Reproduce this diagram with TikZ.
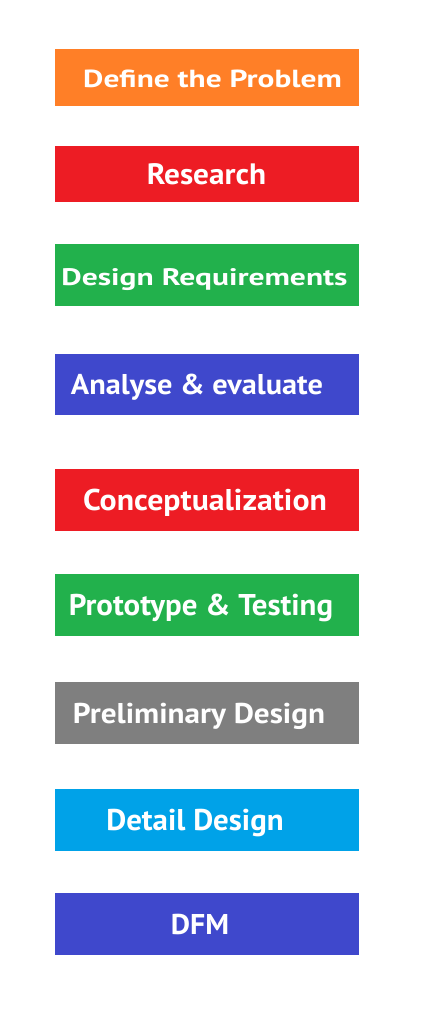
\documentclass[tikz,border=0pt]{standalone}
\usepackage{graphicx}
\usepackage{fontspec}
\setmainfont{PT Sans}
\definecolor{stepOrange}{RGB}{255,127,39}
\definecolor{stepRed}{RGB}{237,28,36}
\definecolor{stepGreen}{RGB}{34,177,76}
\definecolor{stepIndigo}{RGB}{63,72,204}
\definecolor{stepGray}{RGB}{127,127,127}
\definecolor{stepBlue}{RGB}{0,162,232}
\newcommand{\stepwide}[2]{\scalebox{#1}[1]{#2}}
\newcommand{\stepfont}[1]{\fontsize{#1}{30}\selectfont\bfseries}

\begin{document}
\begin{tikzpicture}[x=1pt,y=-1pt,
    stepbox/.style={fill=#1, text=white, minimum width=304pt, inner sep=0pt,
      text height=20.5pt, text depth=0pt}]

    \useasboundingbox (0,0) rectangle (428,1024);

    \node[stepbox=stepOrange, minimum height=56.4pt, font=\stepfont{24.7}]
      (define) at (207,77.5) {\hspace*{11pt}\stepwide{1.27}{Define the Problem}};
    \node[stepbox=stepRed, minimum height=56.3pt, font=\stepfont{29.5}]
      (research) at (207,174.2) {\hspace*{-1pt}\stepwide{1.06}{Research}};
    \node[stepbox=stepGreen, minimum height=61.7pt, font=\stepfont{23.9}]
      (requirements) at (207,275.2) {\hspace*{-5pt}\stepwide{1.32}{Design Requirements}};
    \node[stepbox=stepIndigo, minimum height=61.3pt, font=\stepfont{28.6}]
      (analyse) at (207,384.7) {\hspace*{-20pt}\stepwide{1.06}{Analyse \& evaluate}};
    \node[stepbox=stepRed, minimum height=61.4pt, font=\stepfont{30}]
      (concept) at (207,500) {\hspace*{-4pt}\stepwide{1.06}{Conceptualization}};
    \node[stepbox=stepGreen, minimum height=61.7pt, font=\stepfont{30}]
      (prototype) at (207,605.2) {\hspace*{-12pt}\stepwide{1.03}{Prototype \& Testing}};
    \node[stepbox=stepGray, minimum height=61.4pt, font=\stepfont{28.6}]
      (preliminary) at (207,713) {\hspace*{-16pt}\stepwide{1.09}{Preliminary Design}};
    \node[stepbox=stepBlue, minimum height=61.7pt, font=\stepfont{30}]
      (detail) at (207,819.8) {\hspace*{-24pt}\stepwide{1.03}{Detail Design}};
    \node[stepbox=stepIndigo, minimum height=61.7pt, font=\stepfont{28.6}]
      (dfm) at (207,924.2) {\hspace*{-14pt}\stepwide{1.04}{DFM}};

  \end{tikzpicture}
\end{document}
